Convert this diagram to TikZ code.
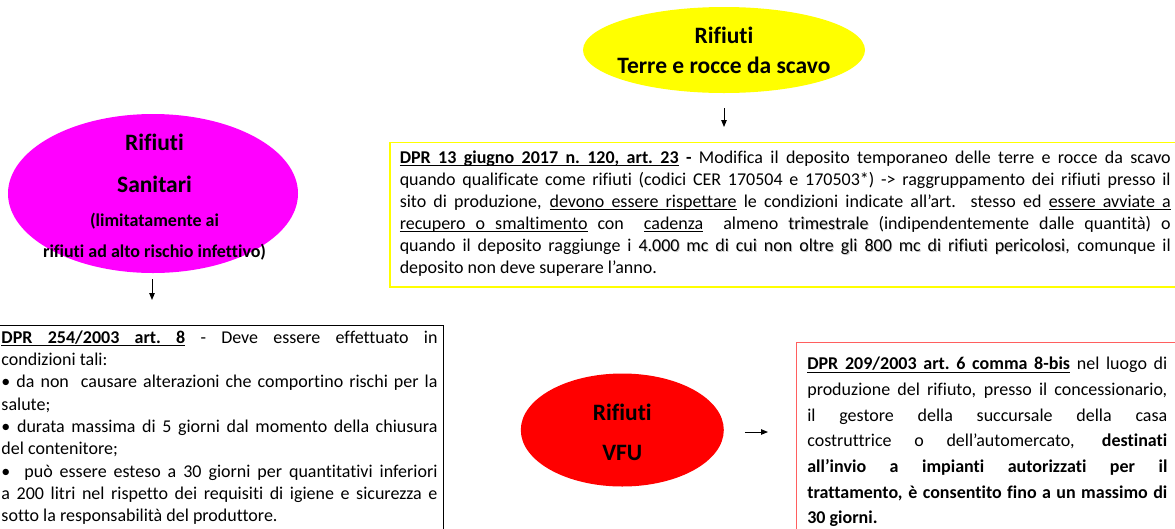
\documentclass[tikz,border=0pt]{standalone}
\usepackage{fontspec}
\setmainfont{Carlito}[Ligatures=NoCommon]
\usetikzlibrary{shapes.geometric,arrows.meta}
\definecolor{yfill}{RGB}{255,255,0}
\definecolor{mfill}{RGB}{255,0,255}
\definecolor{rfill}{RGB}{255,0,0}
\definecolor{rborder}{RGB}{255,95,95}
\newsavebox\uwbox
\newcommand\uw[1]{\sbox\uwbox{#1}\rlap{\vrule height-1.9pt depth2.8pt width\wd\uwbox}\usebox\uwbox}
\newcommand\us{\leaders\hrule height-1.9pt depth2.8pt\hskip\fontdimen2\font plus\fontdimen3\font minus\fontdimen4\font\relax}
\makeatletter
\def\ulphrase#1{\ul@A#1 \ul@end}
\def\ul@A#1 #2\ul@end{\uw{#1}\ifx\relax#2\relax\else\us\ul@A#2\ul@end\fi}
\makeatother
\newcommand\jline[1]{\hbox to\hsize{#1}}
\newcommand\lline[1]{\hbox to\hsize{#1\hfil}}
\newcommand\ctrline[1]{\hbox to\hsize{\hss#1\hss}}
\newcommand\firstst{\vrule height15pt depth0pt width0pt}
\newcommand\shd[1]{\rlap{\kern0.9pt\raisebox{-0.9pt}{\textcolor{black!22}{#1}}}#1}
\newcommand\bodybox[7]{\hbox{\kern#1\vbox to#4{\hsize=#2\fontsize{18}{#5}\selectfont\lineskiplimit=-100pt\lineskip=0pt\vskip#6\relax#7\vfil}\kern#3}}
\newcommand\ztext[2]{\makebox[0pt]{\raisebox{#1}[0pt][0pt]{#2}}}
\tikzset{
  blob/.style={ellipse, inner sep=0pt, outer sep=0pt},
  arr/.style={-{Triangle[length=7pt,width=5.5pt]}, line width=1pt},
  yellowbox/.style={draw=yfill, line width=1.5pt, inner sep=0pt, anchor=north west},
  blackbox/.style={draw=black, line width=1pt, inner sep=0pt, anchor=north west},
  redbox/.style={draw=rborder, line width=1.2pt, inner sep=0pt, anchor=north west},
}
\begin{document}
\begin{tikzpicture}[x=1pt,y=1pt]
\path[fill=white] (0,0) rectangle (1175,-528);
\useasboundingbox (0,0) rectangle (1175,-528);

% Yellow ellipse
\node[blob, fill=yfill, minimum width=282pt, minimum height=86pt] (terre) at (724,-50)
  {\ztext{-23pt}{\vbox{\hsize=300pt\fontsize{23.5}{30}\bfseries\selectfont\lineskiplimit=-100pt
    \ctrline{Rifiuti}\ctrline{Terre e rocce da scavo}}}};

% Yellow box
\node[yellowbox] (terrebox) at (389,-141.5) {\bodybox{10pt}{771pt}{10pt}{144.5pt}{22pt}{6pt}{%
\jline{\firstst\textbf{\ulphrase{DPR 13 giugno 2017 n. 120, art. 23}} \textbf{-} Modifica il deposito temporaneo delle terre e rocce da scavo}
\jline{quando qualificate come rifiuti (codici CER 170504 e 170503*) -> raggruppamento dei rifiuti presso il}
\jline{sito di produzione, \ulphrase{devono essere rispettare} le condizioni indicate all’art. stesso ed \ulphrase{essere avviate a}}
\jline{\ulphrase{recupero o smaltimento} con\ \ \ulphrase{cadenza}\ \ almeno \shd{trimestrale} (indipendentemente dalle quantità) o}
\jline{quando il deposito raggiunge i \shd{4.000} \shd{mc} \shd{di} \shd{cui} \shd{non} \shd{oltre} \shd{gli} \shd{800} \shd{mc} \shd{di} \shd{rifiuti} \shd{pericolosi}, comunque il}
\lline{deposito non deve superare l’anno.}
}};

% Magenta ellipse
\node[blob, fill=mfill, minimum width=290pt, minimum height=159pt] (san) at (153,-193.5)
  {\hspace*{3pt}\ztext{-63.5pt}{\vbox{\hsize=300pt\fontsize{23.5}{30}\bfseries\selectfont\lineskiplimit=-100pt
    \ctrline{Rifiuti}
    \baselineskip=42pt \ctrline{Sanitari}
    {\fontsize{18}{34}\selectfont\ctrline{(limitatamente ai}}
    {\fontsize{18}{31}\selectfont\ctrline{rifiuti ad alto rischio infettivo)}}}}};

% Black box
\node[blackbox] (sanbox) at (-10,-325) {\bodybox{11pt}{436pt}{6pt}{215pt}{22.3pt}{2.7pt}{%
\jline{\firstst\textbf{\ulphrase{DPR 254/2003 art. 8}} - Deve essere effettuato in}
\lline{condizioni tali:}
\jline{• da non\ \ causare alterazioni che comportino rischi per la}
\lline{salute;}
\jline{• durata massima di 5 giorni dal momento della chiusura}
\lline{del contenitore;}
\jline{•\ \ può essere esteso a 30 giorni per quantitativi inferiori}
\jline{a 200 litri nel rispetto dei requisiti di igiene e sicurezza e}
\lline{sotto la responsabilità del produttore.}
}};

% Red ellipse
\node[blob, fill=rfill, minimum width=203pt, minimum height=113pt] (vfu) at (622.3,-430)
  {\ztext{-30.7pt}{\vbox{\hsize=200pt\fontsize{23.5}{40}\bfseries\selectfont\lineskiplimit=-100pt
    \ctrline{Rifiuti}\ctrline{VFU}}}};

% Red box
\node[redbox] (vfubox) at (796,-341.7) {\bodybox{10.7pt}{360pt}{20pt}{200pt}{25.7pt}{12.3pt}{%
\jline{\firstst\textbf{\ulphrase{DPR 209/2003 art. 6 comma 8-bis}} nel luogo di}
\jline{produzione del rifiuto, presso il concessionario,}
\jline{il gestore della succursale della casa}
\jline{costruttrice o dell’automercato, \textbf{destinati}}
\jline{\textbf{all’invio a impianti autorizzati per il}}
\jline{\textbf{trattamento, è consentito fino a un massimo di}}
\lline{\textbf{30 giorni.}}
}};

% Arrows
\draw[arr, shorten <=15pt, shorten >=14.5pt] (terre.south) -- (terre.south |- terrebox.north);
\draw[arr, shorten <=6pt, shorten >=25pt] ([xshift=-1pt]san.south) -- ([xshift=-1pt]san.south |- sanbox.north);
\draw[arr, shorten <=21pt, shorten >=28pt] ([yshift=-2pt]vfu.east) -- ([yshift=-2pt]vfu.east -| vfubox.west);
\end{tikzpicture}
\end{document}
